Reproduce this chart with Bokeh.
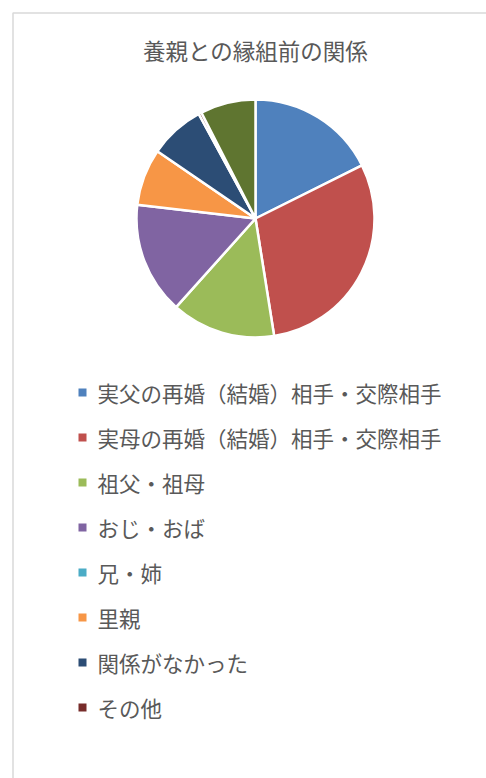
import math
from bokeh.plotting import figure
from bokeh.models import Range1d, ColumnDataSource
from bokeh.core.properties import value
from bokeh.embed import file_html
from bokeh.resources import INLINE

# ---- data ----
title_text = "養親との縁組前の関係"
categories = [
    "実父の再婚（結婚）相手・交際相手",
    "実母の再婚（結婚）相手・交際相手",
    "祖父・祖母",
    "おじ・おば",
    "兄・姉",
    "里親",
    "関係がなかった",
    "その他",
    "不明",
]
shares = [17.6, 29.8, 14.1, 15.2, 0.0, 7.7, 7.5, 0.4, 7.5]
colors = ["#4F81BD", "#C0504D", "#9BBB59", "#8064A2", "#4BACC6",
          "#F79646", "#2C4D75", "#772C2A", "#5F7530"]
legend_shown = 8  # the 9th entry falls outside the visible legend area

W, H = 486, 778
FONT = "Noto Sans CJK JP"
TXT = "#595959"

p = figure(width=W, height=H, output_backend="svg", toolbar_location=None,
           x_range=Range1d(0, W), y_range=Range1d(0, H),
           min_border=0, outline_line_color=None)
p.axis.visible = False
p.grid.visible = False
p.background_fill_color = "white"
p.border_fill_color = "white"

def Y(px):
    return H - px

# chart frame (top and left edges visible)
p.line(x=[12.5, 12.5, W + 5], y=[Y(H + 5), Y(12.5), Y(12.5)],
       line_color="#D9D9D9", line_width=1.5)

# title
p.text(x=[255], y=[Y(49)], text=[title_text], text_align="center",
       text_baseline="middle", text_font=value(FONT), text_font_size="22.5px",
       text_color=TXT)

# pie (zero-share slices have no area, so they are skipped)
total = sum(shares)
cx, cy, r = 255, Y(218), 119
d = dict(start=[], end=[], color=[], cat=[])
acc = 0.0
for s, c, cat in zip(shares, colors, categories):
    a0 = acc / total * 2 * math.pi
    acc += s
    a1 = acc / total * 2 * math.pi
    if s <= 0:
        continue
    d["start"].append(math.pi / 2 - a0)
    d["end"].append(math.pi / 2 - a1)
    d["color"].append(c)
    d["cat"].append(cat)
src = ColumnDataSource(d)
p.wedge(x=cx, y=cy, radius=r, start_angle="start", end_angle="end",
        direction="clock", fill_color="color", line_color="white",
        line_width=2.5, source=src)

# legend
ys = [Y(392 + 45 * i) for i in range(legend_shown)]
p.scatter(x=[82] * legend_shown, y=ys, marker="square", size=8,
          fill_color=colors[:legend_shown], line_color=None)
p.text(x=[97] * legend_shown, y=ys, text=categories[:legend_shown],
       text_baseline="middle", text_align="left", text_font=value(FONT),
       text_font_size="21.5px", text_color=TXT)

open("out.html", "w").write(file_html(p, INLINE))
